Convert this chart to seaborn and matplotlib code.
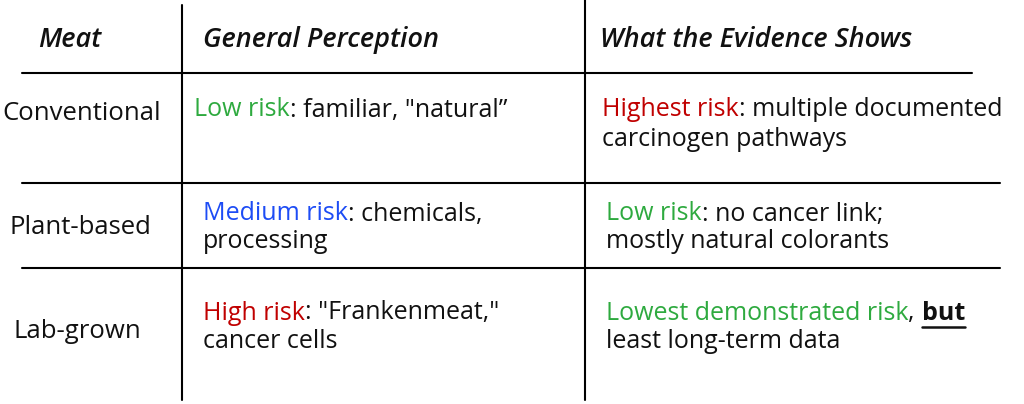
import matplotlib
matplotlib.use("Agg")
import matplotlib.pyplot as plt
import seaborn as sns

sns.set_theme(style="white")
plt.rcParams['font.family'] = ['Open Sans', 'DejaVu Sans']

GREEN = "#2eaa3f"
RED = "#c00000"
BLUE = "#1d4cf5"
BLACK = "#111111"

headers = ["Meat", "General Perception", "What the Evidence Shows"]
meats = ["Conventional", "Plant-based", "Lab-grown"]

# each cell: list of lines, each line a list of (text, colour, bold)
perception = [
    [[("Low risk", GREEN, False), (": familiar, \"natural\u201d", BLACK, False)]],
    [[("Medium risk", BLUE, False), (": chemicals,", BLACK, False)],
     [("processing", BLACK, False)]],
    [[("High risk", RED, False), (": \"Frankenmeat,\"", BLACK, False)],
     [("cancer cells", BLACK, False)]],
]
evidence = [
    [[("Highest risk", RED, False), (": multiple documented", BLACK, False)],
     [("carcinogen pathways", BLACK, False)]],
    [[("Low risk", GREEN, False), (": no cancer link;", BLACK, False)],
     [("mostly natural colorants", BLACK, False)]],
    [[("Lowest demonstrated risk", GREEN, False), (", ", BLACK, False), ("but", BLACK, True)],
     [("least long-term data", BLACK, False)]],
]

fig = plt.figure(figsize=(10.24, 4.04), dpi=100)
ax = fig.add_axes([0, 0, 1, 1])
ax.set_xlim(0, 1024)
ax.set_ylim(404, 0)
ax.axis("off")

# grid lines
ax.plot([182, 182], [5, 400], color="black", lw=1.5)
ax.plot([585, 585], [0, 400], color="black", lw=1.5)
ax.plot([22, 972], [73, 73], color="black", lw=1.5)
ax.plot([22, 1000], [183, 183], color="black", lw=1.5)
ax.plot([22, 1000], [268, 268], color="black", lw=1.5)

FS = 18
for x, h in zip([38, 203, 600], headers):
    ax.text(x, 40, h, fontsize=19.5, style="italic", fontweight="semibold",
            color=BLACK, va="center")

row_y = [114, 228, 332]
meat_x = [2, 10, 14]
for x, y, m in zip(meat_x, row_y, meats):
    ax.text(x, y, m, fontsize=18.5, color=BLACK, va="center")

fig.canvas.draw()
renderer = fig.canvas.get_renderer()
inv = ax.transData.inverted()


def draw_line(x, y, segs):
    for txt, col, bold in segs:
        t = ax.text(x, y, txt, fontsize=FS, color=col, va="center",
                    fontweight="bold" if bold else "normal")
        bb = t.get_window_extent(renderer)
        (x0, y0), (x1, y1) = inv.transform([[bb.x0, bb.y0], [bb.x1, bb.y1]])
        if bold:
            ax.plot([x0, x1], [y0 + 1, y0 + 1], color=BLACK, lw=1.8)
        x = x1


cells_y = [[110, 140], [214, 242], [313, 341]]
for cell, x0, x1 in [(perception, 194, 203), (evidence, 602, 606)]:
    for i, lines in enumerate(cell):
        xx = x0 if i == 0 else x1
        for line, y in zip(lines, cells_y[i]):
            draw_line(xx, y, line)

fig.savefig("out.png", dpi=100, facecolor="white")
